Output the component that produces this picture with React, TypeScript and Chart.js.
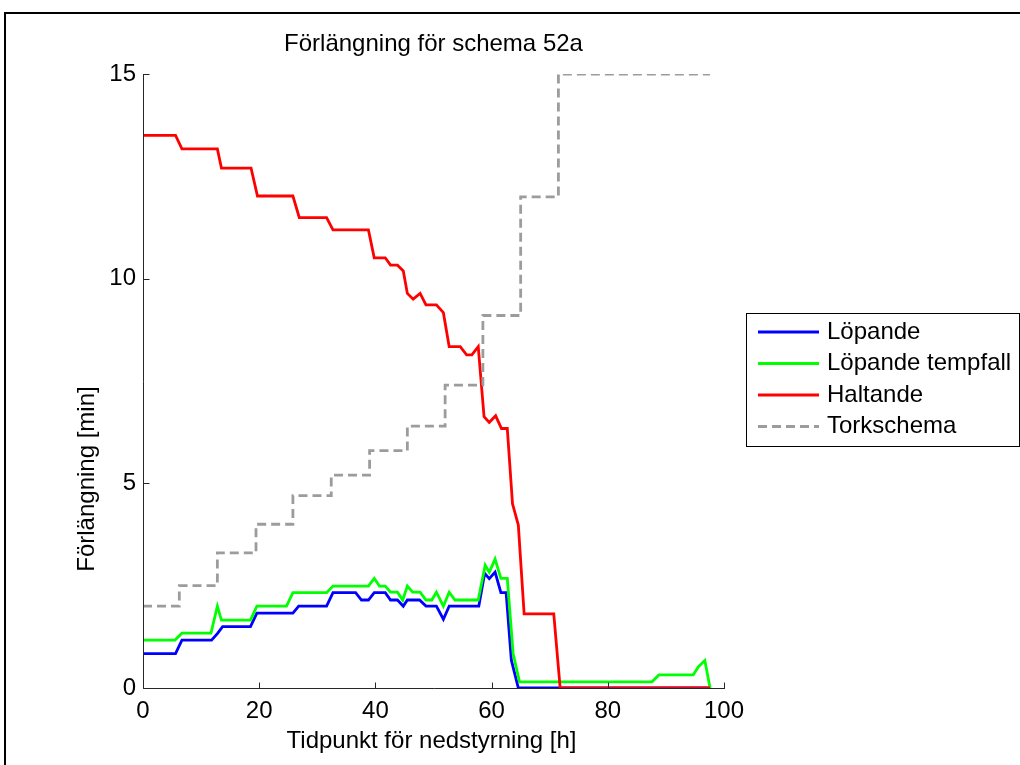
import React, { useEffect, useRef } from "react";
import { Chart, registerables } from "chart.js";

Chart.register(...registerables);

// ---- data ----
const seriesLabels = ["Löpande", "Löpande tempfall", "Haltande", "Torkschema"];

const lopandeX = [0, 5.6, 6.7, 11.8, 12.8, 13.7, 18.5, 19.6, 25.8, 26.8, 31.6, 32.7, 36.6, 37.6, 38.8, 39.8, 41.7, 42.6, 43.8, 44.8, 45.5, 47.6, 48.7, 50.5, 51.7, 52.7, 57.8, 58.8, 59.6, 60.6, 61.6, 62.5, 63.4, 64.6, 97.6];
const lopandeY = [0.84, 0.84, 1.17, 1.17, 1.33, 1.5, 1.5, 1.83, 1.83, 2.0, 2.0, 2.33, 2.33, 2.15, 2.15, 2.33, 2.33, 2.15, 2.15, 2.0, 2.15, 2.15, 2.0, 2.0, 1.68, 2.0, 2.0, 2.8, 2.67, 2.83, 2.33, 2.33, 0.68, 0, 0];

const tempfallX = [0, 5.5, 6.7, 11.7, 12.8, 13.5, 18.5, 19.6, 24.7, 25.8, 31.6, 32.7, 38.8, 39.8, 40.7, 41.7, 42.6, 43.8, 44.7, 45.5, 46.4, 47.7, 48.7, 49.7, 50.5, 51.7, 52.7, 53.7, 57.7, 58.9, 59.6, 60.6, 61.6, 62.7, 63.7, 64.8, 87.6, 88.8, 94.7, 95.6, 96.7, 97.6];
const tempfallY = [1.17, 1.17, 1.34, 1.34, 2.0, 1.66, 1.66, 2.0, 2.0, 2.33, 2.33, 2.49, 2.49, 2.68, 2.49, 2.49, 2.34, 2.34, 2.15, 2.49, 2.34, 2.34, 2.15, 2.15, 2.34, 2.0, 2.34, 2.15, 2.15, 3.0, 2.83, 3.15, 2.68, 2.68, 0.85, 0.15, 0.15, 0.32, 0.32, 0.52, 0.67, 0];

const haltandeX = [0, 5.6, 6.7, 12.8, 13.5, 18.6, 19.7, 25.8, 26.9, 31.6, 32.7, 38.8, 39.8, 41.7, 42.6, 43.8, 44.8, 45.5, 46.5, 47.7, 48.7, 50.5, 51.7, 52.7, 54.6, 55.7, 56.6, 57.7, 58.7, 59.6, 60.7, 61.7, 62.7, 63.6, 64.6, 65.6, 70.7, 71.8, 97.6];
const haltandeY = [13.5, 13.5, 13.17, 13.17, 12.7, 12.7, 12.02, 12.02, 11.49, 11.49, 11.19, 11.19, 10.51, 10.51, 10.33, 10.33, 10.19, 9.64, 9.5, 9.64, 9.36, 9.36, 9.17, 8.34, 8.34, 8.14, 8.14, 8.34, 6.63, 6.49, 6.65, 6.34, 6.34, 4.5, 3.98, 1.81, 1.81, 0, 0];

const torkX = [0, 6.25, 12.8, 19.45, 25.8, 32.4, 39.0, 45.5, 52.0, 58.5, 65.0, 71.5, 97.6];
const torkY = [2.0, 2.5, 3.3, 4.0, 4.7, 5.2, 5.8, 6.4, 7.4, 9.1, 12.0, 15.0, 15.0];

const xTicks = [0, 20, 40, 60, 80, 100];
const yTicks = [0, 5, 10, 15];

const chartTitle = "Förlängning för schema 52a";
const xTitle = "Tidpunkt för nedstyrning [h]";
const yTitle = "Förlängning [min]";

const FONT = '"Liberation Sans", Arial, Helvetica, sans-serif';

function pts(xs: number[], ys: number[]) {
  return xs.map((x, i) => ({ x, y: ys[i] }));
}

const overlayPlugin = {
  id: "overlay",
  afterDraw(chart: any) {
    const { ctx, chartArea: ca } = chart;
    const xs = chart.scales.x;
    const ys = chart.scales.y;
    ctx.save();
    // figure frame
    ctx.strokeStyle = "#000";
    ctx.lineWidth = 2;
    ctx.strokeRect(5, 13, 1200, 1000);

    // axes lines
    ctx.strokeStyle = "#262626";
    ctx.lineWidth = 1;
    const L = Math.round(ca.left) + 0.5;
    const B = Math.round(ca.bottom) + 0.5;
    ctx.beginPath();
    ctx.moveTo(L, Math.round(ca.top));
    ctx.lineTo(L, B);
    ctx.lineTo(Math.round(ca.right) + 1, B);
    ctx.stroke();
    // inward ticks
    ctx.beginPath();
    xTicks.forEach((v) => {
      const px = Math.round(xs.getPixelForValue(v)) + 0.5;
      ctx.moveTo(px, B);
      ctx.lineTo(px, B - 6);
    });
    yTicks.forEach((v) => {
      const py = Math.round(ys.getPixelForValue(v)) + 0.5;
      ctx.moveTo(L, py);
      ctx.lineTo(L + 6, py);
    });
    ctx.stroke();

    // texts
    ctx.fillStyle = "#000";
    ctx.font = `24px ${FONT}`;
    ctx.textAlign = "center";
    ctx.textBaseline = "middle";
    ctx.fillText(chartTitle, (ca.left + ca.right) / 2, 44);
    ctx.fillText(xTitle, (ca.left + ca.right) / 2 - 2, 741);
    ctx.save();
    ctx.translate(87, 479);
    ctx.rotate(-Math.PI / 2);
    ctx.fillText(yTitle, 0, 0);
    ctx.restore();

    // legend
    const bx = 746, by = 313, bw = 273, bh = 133;
    ctx.fillStyle = "#fff";
    ctx.fillRect(bx, by, bw, bh);
    ctx.strokeStyle = "#000";
    ctx.lineWidth = 1;
    ctx.strokeRect(bx + 0.5, by + 0.5, bw, bh);
    const rowY = [332, 363.5, 395, 426.5];
    chart.data.datasets.forEach((ds: any, i: number) => {
      const yy = rowY[i];
      ctx.strokeStyle = ds.borderColor;
      ctx.lineWidth = ds.borderWidth;
      ctx.setLineDash(ds.borderDash || []);
      ctx.beginPath();
      ctx.moveTo(758, yy);
      ctx.lineTo(819, yy);
      ctx.stroke();
      ctx.setLineDash([]);
      ctx.fillStyle = "#000";
      ctx.textAlign = "left";
      ctx.textBaseline = "middle";
      ctx.fillText(ds.label, 827, yy);
    });
    ctx.restore();
  },
};

export default function App() {
  const ref = useRef<HTMLCanvasElement>(null);
  useEffect(() => {
    if (!ref.current) return;
    const lw = 2.8;
    const chart = new Chart(ref.current, {
      type: "line",
      data: {
        datasets: [
          { label: seriesLabels[0], data: pts(lopandeX, lopandeY), borderColor: "#0000ff", borderWidth: lw, order: 3 },
          { label: seriesLabels[1], data: pts(tempfallX, tempfallY), borderColor: "#00ff00", borderWidth: lw, order: 2 },
          { label: seriesLabels[2], data: pts(haltandeX, haltandeY), borderColor: "#ff0000", borderWidth: lw, order: 1 },
          { label: seriesLabels[3], data: pts(torkX, torkY), borderColor: "#9c9c9c", borderWidth: lw, borderDash: [9, 5], stepped: true, order: 0 },
        ] as any,
      },
      options: {
        responsive: false,
        maintainAspectRatio: false,
        animation: false,
        elements: { point: { radius: 0 }, line: { tension: 0, fill: false } },
        layout: { padding: { left: 0, top: 74, right: 296, bottom: 0 } },
        plugins: { legend: { display: false }, tooltip: { enabled: false }, title: { display: false } },
        scales: {
          x: {
            type: "linear",
            min: 0,
            max: 100,
            grid: { display: false, drawTicks: false },
            border: { display: false },
            ticks: { stepSize: 20, color: "#000", font: { family: FONT, size: 24 }, padding: 9, maxRotation: 0, autoSkip: false },
            afterFit: (s: any) => { s.height = 77; },
          },
          y: {
            type: "linear",
            min: 0,
            max: 15,
            grid: { display: false, drawTicks: false },
            border: { display: false },
            ticks: { stepSize: 5, color: "#000", font: { family: FONT, size: 24 }, padding: 7 },
            afterFit: (s: any) => { s.width = 143; },
          },
        },
      } as any,
      plugins: [overlayPlugin],
    });
    return () => chart.destroy();
  }, []);
  return (
    <div style={{ position: "fixed", left: 0, top: 0, width: 1020, height: 765, overflow: "hidden", background: "#fff" }}>
      <canvas ref={ref} width={1020} height={765} style={{ display: "block", width: 1020, height: 765 }} />
    </div>
  );
}
